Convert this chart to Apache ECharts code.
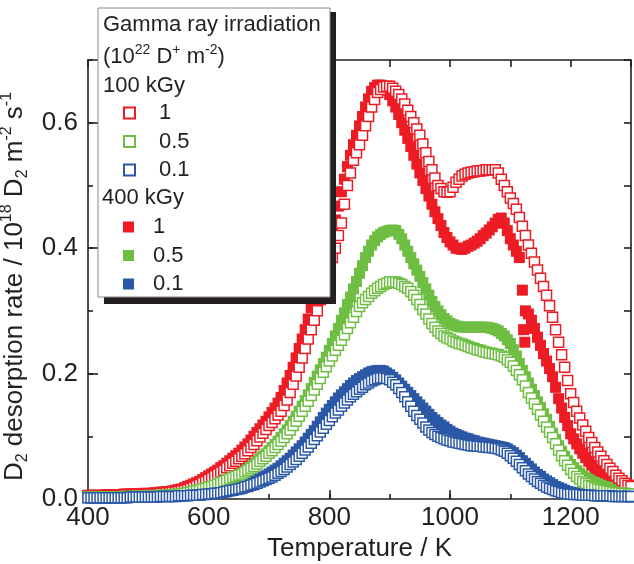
<!DOCTYPE html>
<html><head><meta charset="utf-8">
<script src="https://cdn.jsdelivr.net/npm/echarts@6/dist/echarts.min.js"></script>
<style>html,body{margin:0;padding:0;background:#fff}#c{width:634px;height:564px}</style>
</head><body><div id="c"></div>
<script>
const temps = [
400,405,410,415,420,425,430,435,440,445,450,455,460,465,470,475,480,485,490,495,
500,505,510,515,520,525,530,535,540,545,550,555,560,565,570,575,580,585,590,595,
600,605,610,615,620,625,630,635,640,645,650,655,660,665,670,675,680,685,690,695,
700,705,710,715,720,725,730,735,740,745,750,755,760,765,770,775,780,785,790,795,
800,805,810,815,820,825,830,835,840,845,850,855,860,865,870,875,880,885,890,895,
900,905,910,915,920,925,930,935,940,945,950,955,960,965,970,975,980,985,990,995,
1000,1005,1010,1015,1020,1025,1030,1035,1040,1045,1050,1055,1060,1065,1070,1075,1080,1085,1090,1095,
1100,1105,1110,1115,1120,1125,1130,1135,1140,1145,1150,1155,1160,1165,1170,1175,1180,1185,1190,1195,
1200,1205,1210,1215,1220,1225,1230,1235,1240,1245,1250,1255,1260,1265,1270,1275,1280,1285,1290,1295,
1300];

// 100 kGy, fluence 1 (open red)
const r100 = [
0.005,0.005,0.005,0.005,0.005,0.005,0.005,0.005,0.005,0.005,0.006,0.006,0.006,0.006,0.006,0.006,0.007,0.007,0.007,0.007,
0.008,0.008,0.008,0.008,0.009,0.009,0.010,0.010,0.011,0.011,0.012,0.013,0.014,0.015,0.017,0.019,0.021,0.023,0.026,0.028,
0.031,0.034,0.037,0.040,0.043,0.046,0.050,0.053,0.057,0.060,0.064,0.068,0.072,0.077,0.082,0.087,0.093,0.099,0.105,0.111,
0.117,0.122,0.128,0.134,0.140,0.149,0.158,0.170,0.183,0.196,0.210,0.225,0.240,0.255,0.270,0.285,0.300,0.318,0.335,0.352,
0.370,0.385,0.400,0.420,0.440,0.470,0.500,0.520,0.540,0.552,0.565,0.580,0.595,0.610,0.625,0.637,0.648,0.653,0.657,0.658,
0.658,0.655,0.650,0.645,0.638,0.630,0.620,0.610,0.600,0.590,0.580,0.566,0.552,0.538,0.525,0.512,0.500,0.495,0.490,0.489,
0.490,0.497,0.505,0.510,0.515,0.518,0.520,0.521,0.522,0.523,0.523,0.524,0.525,0.525,0.525,0.525,0.520,0.510,0.500,0.490,
0.480,0.471,0.462,0.449,0.435,0.420,0.405,0.392,0.378,0.365,0.352,0.339,0.325,0.308,0.290,0.270,0.250,0.230,0.210,0.189,
0.168,0.154,0.140,0.129,0.118,0.108,0.098,0.090,0.082,0.075,0.068,0.061,0.055,0.049,0.044,0.038,0.033,0.029,0.025,0.022,
0.020];

// 100 kGy, fluence 0.5 (open green)
const g100 = [
0.003,0.003,0.003,0.003,0.003,0.003,0.003,0.003,0.003,0.003,0.003,0.003,0.004,0.004,0.004,0.004,0.004,0.004,0.004,0.004,
0.005,0.005,0.005,0.005,0.006,0.006,0.006,0.006,0.007,0.007,0.008,0.008,0.009,0.010,0.011,0.012,0.013,0.014,0.016,0.017,
0.019,0.020,0.022,0.024,0.026,0.028,0.030,0.032,0.034,0.036,0.038,0.040,0.043,0.046,0.049,0.052,0.056,0.060,0.064,0.068,
0.073,0.077,0.082,0.087,0.092,0.098,0.104,0.110,0.117,0.124,0.132,0.140,0.148,0.156,0.165,0.174,0.183,0.192,0.202,0.211,
0.220,0.228,0.237,0.245,0.253,0.262,0.272,0.281,0.290,0.299,0.307,0.313,0.318,0.323,0.328,0.332,0.336,0.339,0.342,0.344,
0.346,0.346,0.346,0.344,0.342,0.339,0.336,0.331,0.325,0.318,0.310,0.302,0.295,0.287,0.280,0.274,0.268,0.264,0.260,0.257,
0.255,0.252,0.250,0.248,0.247,0.245,0.243,0.241,0.240,0.238,0.237,0.235,0.234,0.233,0.232,0.231,0.230,0.228,0.226,0.222,
0.218,0.212,0.205,0.198,0.190,0.180,0.170,0.161,0.152,0.143,0.134,0.124,0.115,0.107,0.098,0.088,0.078,0.069,0.061,0.054,
0.047,0.041,0.036,0.032,0.028,0.025,0.022,0.020,0.018,0.016,0.015,0.014,0.013,0.012,0.011,0.010,0.010,0.009,0.009,0.008,
0.008];

// 100 kGy, fluence 0.1 (open blue)
const b100 = [
0.002,0.002,0.002,0.002,0.002,0.002,0.002,0.002,0.002,0.002,0.002,0.002,0.002,0.002,0.003,0.003,0.003,0.003,0.003,0.003,
0.003,0.003,0.003,0.003,0.004,0.004,0.004,0.004,0.004,0.004,0.005,0.005,0.005,0.005,0.006,0.006,0.006,0.006,0.007,0.007,
0.008,0.008,0.009,0.009,0.010,0.011,0.012,0.013,0.014,0.015,0.016,0.017,0.019,0.020,0.022,0.023,0.025,0.027,0.029,0.031,
0.033,0.035,0.038,0.041,0.044,0.047,0.051,0.055,0.059,0.063,0.068,0.073,0.078,0.083,0.089,0.095,0.101,0.107,0.113,0.119,
0.125,0.131,0.137,0.142,0.148,0.153,0.158,0.163,0.167,0.171,0.175,0.178,0.182,0.185,0.188,0.190,0.192,0.193,0.193,0.192,
0.190,0.186,0.182,0.176,0.170,0.163,0.155,0.148,0.140,0.133,0.127,0.121,0.115,0.110,0.106,0.103,0.100,0.098,0.096,0.094,
0.093,0.091,0.090,0.089,0.088,0.087,0.086,0.085,0.085,0.084,0.084,0.083,0.083,0.082,0.082,0.081,0.080,0.078,0.076,0.073,
0.069,0.065,0.060,0.055,0.050,0.045,0.040,0.036,0.032,0.028,0.025,0.022,0.019,0.017,0.015,0.013,0.012,0.010,0.009,0.008,
0.008,0.007,0.007,0.007,0.006,0.006,0.006,0.006,0.005,0.005,0.005,0.005,0.005,0.005,0.004,0.004,0.004,0.004,0.004,0.004,
0.004];

// 400 kGy, fluence 1 (filled red)
const r400 = [
0.006,0.006,0.006,0.006,0.006,0.006,0.007,0.007,0.007,0.007,0.007,0.007,0.008,0.008,0.008,0.008,0.008,0.008,0.009,0.009,
0.009,0.009,0.010,0.010,0.011,0.011,0.012,0.012,0.013,0.014,0.015,0.016,0.018,0.020,0.022,0.024,0.026,0.028,0.031,0.034,
0.037,0.040,0.043,0.046,0.050,0.053,0.057,0.061,0.065,0.069,0.073,0.078,0.083,0.088,0.094,0.100,0.106,0.112,0.118,0.124,
0.131,0.138,0.145,0.153,0.162,0.173,0.185,0.197,0.210,0.225,0.240,0.255,0.270,0.287,0.305,0.322,0.340,0.357,0.375,0.392,
0.410,0.427,0.445,0.467,0.490,0.510,0.530,0.548,0.565,0.580,0.595,0.610,0.625,0.638,0.650,0.656,0.660,0.660,0.658,0.652,
0.645,0.635,0.625,0.613,0.600,0.588,0.575,0.562,0.548,0.534,0.520,0.508,0.495,0.483,0.470,0.458,0.447,0.436,0.425,0.417,
0.410,0.405,0.400,0.399,0.398,0.400,0.403,0.405,0.408,0.411,0.415,0.420,0.424,0.429,0.434,0.440,0.446,0.448,0.440,0.428,
0.415,0.405,0.395,0.385,0.333,0.300,0.295,0.285,0.272,0.258,0.245,0.232,0.220,0.208,0.195,0.178,0.160,0.145,0.130,0.117,
0.104,0.096,0.088,0.080,0.073,0.066,0.060,0.054,0.048,0.043,0.038,0.034,0.030,0.027,0.024,0.021,0.019,0.017,0.015,0.013,
0.012];
// extra scattered 400 kGy / 1 points near 1120 K
const r400ExtraT = [1122, 1124];
const r400ExtraV = [0.270, 0.250];

// 400 kGy, fluence 0.5 (filled green)
const g400 = [
0.003,0.003,0.003,0.003,0.003,0.003,0.003,0.003,0.004,0.004,0.004,0.004,0.004,0.004,0.004,0.004,0.005,0.005,0.005,0.005,
0.005,0.005,0.006,0.006,0.006,0.006,0.007,0.007,0.008,0.008,0.009,0.009,0.010,0.011,0.012,0.013,0.014,0.015,0.017,0.018,
0.020,0.022,0.024,0.026,0.028,0.030,0.032,0.034,0.037,0.040,0.042,0.044,0.047,0.050,0.053,0.056,0.060,0.064,0.068,0.072,
0.077,0.082,0.087,0.092,0.098,0.104,0.110,0.117,0.124,0.132,0.140,0.148,0.157,0.166,0.176,0.186,0.196,0.206,0.216,0.226,
0.237,0.248,0.260,0.272,0.285,0.297,0.310,0.322,0.335,0.347,0.360,0.372,0.385,0.395,0.405,0.412,0.418,0.422,0.425,0.427,
0.428,0.429,0.428,0.422,0.415,0.405,0.395,0.385,0.375,0.365,0.355,0.345,0.335,0.325,0.315,0.307,0.300,0.294,0.288,0.284,
0.280,0.278,0.276,0.275,0.274,0.274,0.274,0.274,0.274,0.274,0.274,0.274,0.274,0.273,0.272,0.270,0.268,0.264,0.260,0.254,
0.248,0.238,0.228,0.216,0.205,0.195,0.185,0.175,0.165,0.155,0.146,0.136,0.127,0.116,0.105,0.095,0.085,0.076,0.068,0.061,
0.055,0.050,0.045,0.041,0.037,0.034,0.031,0.028,0.026,0.024,0.022,0.020,0.019,0.018,0.017,0.016,0.015,0.014,0.013,0.012,
0.012];

// 400 kGy, fluence 0.1 (filled blue)
const b400 = [
0.002,0.002,0.002,0.002,0.002,0.002,0.002,0.002,0.002,0.002,0.002,0.002,0.003,0.003,0.003,0.003,0.003,0.003,0.003,0.003,
0.003,0.003,0.004,0.004,0.004,0.004,0.004,0.005,0.005,0.005,0.005,0.005,0.006,0.006,0.006,0.006,0.007,0.007,0.008,0.008,
0.009,0.009,0.010,0.011,0.012,0.013,0.014,0.015,0.016,0.017,0.019,0.020,0.022,0.024,0.026,0.028,0.030,0.032,0.035,0.037,
0.040,0.043,0.046,0.049,0.053,0.057,0.061,0.065,0.070,0.075,0.080,0.085,0.091,0.097,0.103,0.109,0.116,0.123,0.130,0.137,
0.143,0.149,0.155,0.161,0.166,0.171,0.176,0.181,0.185,0.189,0.192,0.195,0.198,0.201,0.203,0.204,0.205,0.205,0.204,0.201,
0.198,0.194,0.190,0.185,0.180,0.175,0.170,0.165,0.160,0.155,0.150,0.145,0.140,0.135,0.130,0.126,0.122,0.118,0.115,0.111,
0.108,0.105,0.103,0.101,0.099,0.097,0.096,0.094,0.093,0.091,0.090,0.089,0.088,0.087,0.086,0.085,0.084,0.083,0.082,0.080,
0.077,0.074,0.070,0.066,0.061,0.057,0.052,0.048,0.043,0.039,0.036,0.032,0.029,0.026,0.023,0.020,0.018,0.016,0.014,0.012,
0.011,0.010,0.009,0.009,0.008,0.008,0.007,0.007,0.006,0.006,0.005,0.005,0.005,0.005,0.005,0.004,0.004,0.004,0.004,0.004,
0.003];

const legendLabels = ['1', '0.5', '0.1'];
const names100 = ['100 kGy, 1', '100 kGy, 0.5', '100 kGy, 0.1'];
const names400 = ['400 kGy, 1', '400 kGy, 0.5', '400 kGy, 0.1'];
const xTicks = [400, 600, 800, 1000, 1200];
const yTicks = ['0.0', '0.2', '0.4', '0.6'];

const RED = '#ed1c24', GREEN = '#6fbe44', BLUE = '#2b58a6', INK = '#231f20';
const FONT = '"Liberation Sans", Arial, Helvetica, sans-serif';

function pairs(xs, ys) { return xs.map((x, i) => [x, ys[i]]); }

function filledSeries(name, color, data) {
  return { name, type: 'scatter', data, symbol: 'rect', symbolSize: 11, clip: false,
    itemStyle: { color: color, opacity: 1 }, emphasis: { disabled: true }, silent: true };
}
function openSeries(name, color, data) {
  return { name, type: 'scatter', data, symbol: 'rect', symbolSize: 10, clip: false,
    itemStyle: { color: '#ffffff', borderColor: color, borderWidth: 1.5, opacity: 1 },
    emphasis: { disabled: true }, silent: true };
}

const axLine = { show: true, onZero: false, lineStyle: { color: INK, width: 1.6 } };
const tickStyle = { color: INK, width: 1.6 };

const option = {
  animation: false,
  backgroundColor: '#ffffff',
  textStyle: { fontFamily: FONT },
  grid: { left: 88, right: 3, top: 60, bottom: 65, outerBoundsMode: 'none', containLabel: false },
  xAxis: [
    { type: 'value', min: 400, max: 1300, interval: 200, position: 'bottom',
      axisLine: axLine, axisTick: { inside: true, length: 9, lineStyle: tickStyle },
      axisLabel: { fontSize: 26, color: INK, margin: 6, fontFamily: FONT, showMaxLabel: false,
        formatter: v => xTicks.includes(v) ? String(v) : '' },
      splitLine: { show: false },
      name: 'Temperature / K', nameLocation: 'middle', nameGap: 37,
      nameTextStyle: { fontSize: 26, color: INK, fontFamily: FONT } },
    { type: 'value', min: 400, max: 1300, interval: 100, position: 'bottom',
      axisLine: { show: false }, axisTick: { inside: true, length: 5, lineStyle: tickStyle },
      axisLabel: { show: false }, splitLine: { show: false } },
    { type: 'value', min: 400, max: 1300, interval: 100, position: 'top',
      axisLine: axLine, axisTick: { inside: true, length: 7, lineStyle: tickStyle },
      axisLabel: { show: false }, splitLine: { show: false } }
  ],
  yAxis: [
    { type: 'value', min: 0, max: 0.7, interval: 0.2, position: 'left',
      axisLine: axLine, axisTick: { inside: true, length: 10, lineStyle: tickStyle },
      axisLabel: { fontSize: 26, color: INK, margin: 10, fontFamily: FONT, showMaxLabel: false,
        formatter: v => yTicks.includes(v.toFixed(1)) ? v.toFixed(1) : '' },
      splitLine: { show: false },
      name: '{n|D}{b|2}{n| desorption rate / 10}{t|18}{n| D}{b|2}{n| m}{t|-2}{n| s}{t|-1}',
      nameLocation: 'middle', nameGap: 45,
      nameTextStyle: { color: INK, fontFamily: FONT, fontSize: 26, padding: [0, 14, 0, 0],
        rich: {
          n: { fontSize: 26, lineHeight: 32, color: INK, fontFamily: FONT },
          t: { fontSize: 16, lineHeight: 16, verticalAlign: 'top', color: INK, fontFamily: FONT },
          b: { fontSize: 16, lineHeight: 16, verticalAlign: 'bottom', color: INK, fontFamily: FONT }
        } } },
    { type: 'value', min: 0, max: 0.7, interval: 0.1, position: 'left',
      axisLine: { show: false }, axisTick: { inside: true, length: 5, lineStyle: tickStyle },
      axisLabel: { show: false }, splitLine: { show: false } },
    { type: 'value', min: 0, max: 0.7, interval: 0.1, position: 'right',
      axisLine: axLine, axisTick: { inside: true, length: 7, lineStyle: tickStyle },
      axisLabel: { show: false }, splitLine: { show: false } }
  ],
  legend: [
    { data: names100, orient: 'vertical', left: 123, top: 102, padding: 0, itemGap: 6.5,
      itemWidth: 11, itemHeight: 11, icon: 'rect', z: 20, selectedMode: false,
      formatter: n => legendLabels[names100.indexOf(n)],
      textStyle: { fontSize: 22, lineHeight: 22, color: INK, fontFamily: FONT, padding: [0, 0, 0, 19] } },
    { data: names400, orient: 'vertical', left: 123, top: 216, padding: 0, itemGap: 6.5,
      itemWidth: 11, itemHeight: 11, icon: 'rect', z: 20, selectedMode: false,
      formatter: n => legendLabels[names400.indexOf(n)],
      textStyle: { fontSize: 22, lineHeight: 22, color: INK, fontFamily: FONT, padding: [0, 0, 0, 14] } }
  ],
  graphic: [
    { type: 'rect', z: 10, shape: { x: 104, y: 12, width: 232, height: 292 }, style: { fill: INK } },
    { type: 'rect', z: 11, shape: { x: 98, y: 8, width: 232, height: 289 },
      style: { fill: '#ffffff', stroke: '#8a8a8a', lineWidth: 1 } },
    { type: 'text', z: 20, x: 103, y: 25,
      style: { text: 'Gamma ray irradiation', font: '22px ' + FONT, fill: INK, verticalAlign: 'middle' } },
    { type: 'text', z: 20, x: 103, y: 57,
      style: { text: '{n|(10}{t|22}{n| D}{t|+}{n| m}{t|-2}{n|)}', verticalAlign: 'middle', fill: INK,
        rich: {
          n: { fontSize: 22, lineHeight: 28, fontFamily: FONT, fill: INK },
          t: { fontSize: 14, lineHeight: 14, verticalAlign: 'top', fontFamily: FONT, fill: INK }
        } } },
    { type: 'text', z: 20, x: 103, y: 86,
      style: { text: '100 kGy', font: '22px ' + FONT, fill: INK, verticalAlign: 'middle' } },
    { type: 'text', z: 20, x: 102, y: 198,
      style: { text: '400 kGy', font: '22px ' + FONT, fill: INK, verticalAlign: 'middle' } }
  ],
  series: [
    filledSeries(names400[0], RED, pairs(temps, r400).concat(pairs(r400ExtraT, r400ExtraV))),
    filledSeries(names400[1], GREEN, pairs(temps, g400)),
    filledSeries(names400[2], BLUE, pairs(temps, b400)),
    openSeries(names100[0], RED, pairs(temps, r100)),
    openSeries(names100[1], GREEN, pairs(temps, g100)),
    openSeries(names100[2], BLUE, pairs(temps, b100))
  ]
};

const chart = echarts.init(document.getElementById('c'), null, { renderer: 'canvas' });
chart.setOption(option);
</script>
</body></html>
